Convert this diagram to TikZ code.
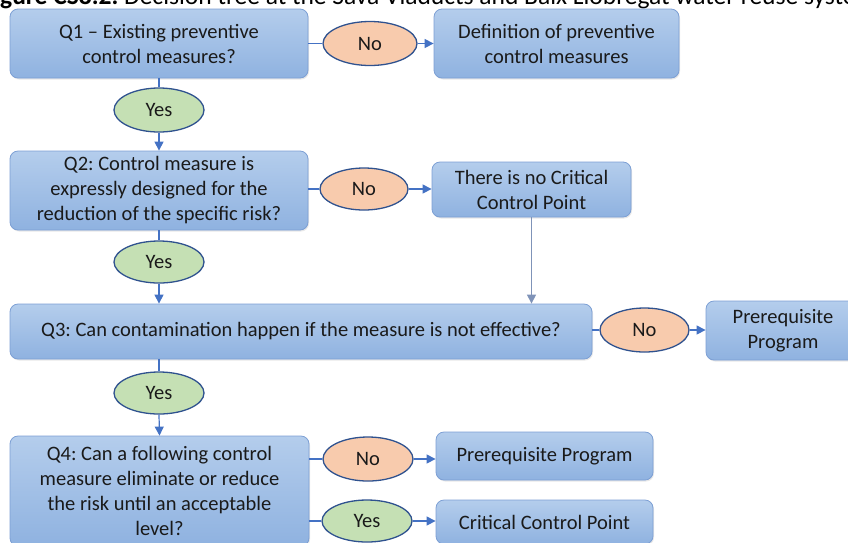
\documentclass[tikz,border=0pt]{standalone}
\usepackage{fontspec}
\setmainfont{Carlito}
\usetikzlibrary{shapes.geometric,arrows.meta,shadows}
\frenchspacing

\definecolor{boxTop}{HTML}{B4CDEC}
\definecolor{boxBot}{HTML}{8FB2E0}
\definecolor{boxEdge}{HTML}{7C9FD4}
\definecolor{noFill}{HTML}{F8CBAD}
\definecolor{yesFill}{HTML}{C5E0B4}
\definecolor{ovalEdge}{HTML}{2F528F}
\definecolor{linkCol}{HTML}{4472C4}
\definecolor{linkGray}{HTML}{7F93B8}
\definecolor{txt}{HTML}{1A1A1A}

\tikzset{
  boxtext/.style={font=\fontsize{20.5}{25}\selectfont, text=txt},
  qbox/.style={boxtext, rectangle, rounded corners=8pt, draw=boxEdge, line width=0.8pt,
    top color=boxTop, bottom color=boxBot, align=center, inner sep=2pt,
    drop shadow={shadow xshift=1pt, shadow yshift=-1.5pt, opacity=0.18}},
  oval/.style={boxtext, ellipse, draw=ovalEdge, line width=1.3pt, inner sep=0pt},
  nooval/.style={oval, fill=noFill},
  yesoval/.style={oval, fill=yesFill},
  link/.style={draw=linkCol, line width=1.2pt},
  arrowlink/.style={link, -{Triangle[length=9pt,width=9pt]}},
}

\begin{document}
\begin{tikzpicture}[x=1pt, y=-1pt]
\useasboundingbox (0,0) rectangle (848,542);
\clip (0,0) rectangle (848,542);

% caption line running along the top edge
\node[anchor=base west, inner sep=0pt, font=\fontsize{25.5}{30}\selectfont, text=black] (caption) at (-18,4)
  {\textbf{Figure CS8.2.} Decision tree at the Sava Viaducts and Baix Llobregat water reuse system};

% question boxes
\node[qbox, minimum width=298pt, minimum height=69pt] (q1) at (159,43.5)
  {Q1 – Existing preventive\\control measures?};
\node[qbox, minimum width=298pt, minimum height=79pt] (q2) at (159,190.5)
  {Q2: Control measure is\\expressly designed for the\\reduction of the specific risk?};
\node[qbox, minimum width=582pt, minimum height=55pt] (q3) at (301,331.5)
  {Q3: Can contamination happen if the measure is not effective?};
\node[qbox, minimum width=299pt, minimum height=110pt] (q4) at (159.5,491)
  {Q4: Can a following control\\measure eliminate or reduce\\the risk until an acceptable\\level?};

% outcome boxes
\node[qbox, minimum width=245pt, minimum height=69pt] (def) at (556.5,43.5)
  {Definition of preventive\\control measures};
\node[qbox, minimum width=199pt, minimum height=55pt] (noccp) at (531.5,189.5)
  {There is no Critical\\Control Point};
\node[qbox, minimum width=154pt, minimum height=59pt] (prq) at (783,330.5)
  {Prerequisite\\Program};
\node[qbox, minimum width=217pt, minimum height=48pt] (prq2) at (544.5,456)
  {Prerequisite Program};
\node[qbox, minimum width=217pt, minimum height=44pt] (ccp) at (544.5,522)
  {Critical Control Point};

% answer ovals
\node[nooval, minimum width=94pt, minimum height=44pt] (no1) at (370,43.5) {No};
\node[nooval, minimum width=88pt, minimum height=42pt] (no2) at (364,189) {No};
\node[nooval, minimum width=89pt, minimum height=44pt] (no3) at (644.5,330) {No};
\node[nooval, minimum width=90pt, minimum height=44pt] (no4) at (368,459) {No};
\node[yesoval, minimum width=90pt, minimum height=44pt] (yes1) at (159,110) {Yes};
\node[yesoval, minimum width=90pt, minimum height=42pt] (yes2) at (159,262) {Yes};
\node[yesoval, minimum width=90pt, minimum height=42pt] (yes3) at (159,393) {Yes};
\node[yesoval, minimum width=90pt, minimum height=42pt] (yes4) at (367,521) {Yes};

% connectors
\draw[link] (q1.east) -- (no1.west);
\draw[arrowlink] (no1.east) -- (def.west);
\draw[link] (q1.south) -- (yes1.north);
\draw[arrowlink] (yes1.south) -- (q2.north);

\draw[link] (q2.east |- no2.west) -- (no2.west);
\draw[arrowlink] (no2.east) -- (noccp.west |- no2.east);
\draw[link] (q2.south) -- (yes2.north);
\draw[arrowlink] (yes2.south) -- (yes2.south |- q3.north);
\draw[arrowlink, draw=linkGray] (noccp.south) -- (noccp.south |- q3.north);

\draw[link] (q3.east |- no3.west) -- (no3.west);
\draw[arrowlink] (no3.east) -- (prq.west |- no3.east);
\draw[link] (yes3.north |- q3.south) -- (yes3.north);
\draw[arrowlink] (yes3.south) -- (q4.north);

\draw[link] (q4.east |- no4.west) -- (no4.west);
\draw[arrowlink] (no4.east) -- (prq2.west |- no4.east);
\draw[link] (q4.east |- yes4.west) -- (yes4.west);
\draw[arrowlink] (yes4.east) -- (ccp.west |- yes4.east);
\end{tikzpicture}
\end{document}
